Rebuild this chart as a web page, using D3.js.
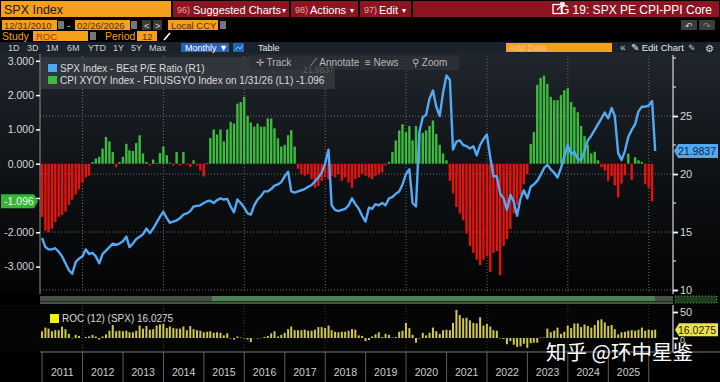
<!DOCTYPE html>
<html lang="en">
<head>
<meta charset="UTF-8">
<title>G 19: SPX PE CPI-PPI Core</title>
<script src="https://d3js.org/d3.v7.min.js"></script>
<style>
    body { margin: 0; background: #000; overflow: hidden; }
    svg { display: block; font-family: "Liberation Sans", Arial, sans-serif; }
</style>
</head>
<body>
<svg id="chart" width="720" height="382"></svg>
<script>
    // ---- data (monthly, month-end dates, first month = Dec 2010) ----
    // CPI XYOY - FDIUSGYO spread, Dec 2010 .. Jan 2026 (left axis)
    const cpiPpiSpread = [
        -1.55, -1.95, -2.0, -1.9, -1.7, -1.55, -1.5, -1.4, -1.2, -1.05, -0.9, -0.75, -0.55, -0.4, -0.35,
        0.05, 0.15, 0.2, 0.44, 0.78, 0.65, 0.34, -0.1, 0.05, 0.2, 0.58, 0.39, 0.37, 0.6, 0.83, 0.3,
        0.05, -0.05, 0.12, 0.02, 0.31, 0.5, 0.25, 0.03, -0.05, 0.34, -0.05, 0.34, -0.03, -0.1, 0.1, -0.05, -0.2, -0.37, 0.02,
        0.75, 1.0, 0.85, 1.0, 0.65, 1.0, 1.22, 1.17, 1.75, 1.8, 1.95, 1.4, 1.2, 1.08, 1.17, 1.08, 1.08, 1.32, 1.32, 1.03, 0.74, 0.5, 0.55, 0.83, 0.98, 0.5,
        -0.15, -0.3, -0.35, -0.3, -0.45, -0.7, -0.65, -0.5, -0.4, -0.45, -0.35, -0.4, -0.3, -0.5, -0.4, -0.55, -0.7, -0.45, -0.4, -0.3, -0.35, -0.4, -0.45, -0.35, -0.3, -0.25,
        -0.05, 0.05, 0.34, 0.68, 0.97, 1.15, 0.92, 1.1, 0.68, 1.1, 0.85, 0.9, 0.97, 1.1, 1.26, 0.87, 0.55, 0.3, 0.1,
        -0.5, -0.87, -1.26, -1.45, -1.65, -2.04, -2.4, -2.6, -2.8, -2.96, -2.8, -2.7, -3.16, -2.6, -2.55, -3.25, -2.4, -2.2, -1.9, -1.45, -1.2, -0.9, -0.6, -0.3,
        0.58, 0.92, 2.3, 2.5, 2.57, 2.33, 1.95, 1.85, 1.85, 2.0, 2.14, 2.2, 1.8, 1.65, 1.5, 1.1, 0.8, 0.55, 0.3, 0.35, 0.1,
        -0.1, -0.2, -0.5, -0.35, -0.63, -0.98, -0.58, -0.34, 0.29, -0.48, 0.19, 0.1, 0.05, -0.6, -0.7, -1.096
    ];

    // SPX BEst P/E ratio, Dec 2010 .. Feb 2026 (right axis)
    const peRatio = [
        14.5, 13.7, 13.5, 13.5, 13.6, 13.3, 12.9, 12.3, 11.7, 11.4,
        12.4, 12.7, 12.9, 13.5, 13.1, 13.2, 12.9, 12.3, 13.1, 13.4,
        13.7, 14.0, 13.9, 14.0, 14.2, 14.6, 13.7, 14.0, 14.4, 14.6,
        14.8, 15.3, 14.9, 15.3, 15.8, 16.3, 16.75, 16.2, 15.8, 15.9,
        16.0, 16.2, 16.5, 16.6, 16.8, 17.2, 17.25, 17.3, 17.5, 17.65,
        17.7, 17.5, 17.75, 17.9, 17.8, 17.85, 17.2, 16.7, 17.8, 17.5,
        17.1, 16.6, 16.5, 17.3, 17.8, 18.1, 18.5, 18.5, 18.7, 19.0,
        19.1, 19.3, 19.8, 20.2, 18.5, 18.4, 18.5, 18.6, 18.7, 18.9,
        19.05, 19.35, 19.7, 20.1, 20.9, 22.1, 17.3, 16.9, 16.8, 16.9,
        17.0, 17.3, 17.9, 17.4, 17.0, 16.4, 15.9, 17.1, 17.0, 17.4,
        17.3, 17.5, 17.3, 17.9, 18.0, 18.3, 18.5, 19.1, 20.0, 20.4,
        17.5, 17.2, 23.6, 24.9, 25.1, 26.5, 27.2, 25.8, 25.0, 27.0,
        28.5, 28.1, 22.1, 22.8, 22.9, 22.5, 22.4, 22.2, 22.4, 21.6,
        22.5, 23.0, 23.4, 21.4, 19.8, 19.8, 18.3, 17.9, 16.9, 18.2,
        17.6, 16.4, 17.9, 18.6, 17.9, 18.9, 19.1, 19.4, 19.9, 20.5,
        20.8, 20.4, 20.1, 19.7, 20.5, 21.5, 22.5, 21.7, 21.9, 21.3,
        21.2, 22.0, 22.9, 23.3, 23.8, 24.3, 24.8, 25.3, 24.8, 25.7,
        25.0, 21.8, 21.2, 22.0, 23.2, 23.8, 24.3, 25.4, 25.8, 25.8,
        25.9, 26.3, 21.9837
    ];

    // ROC (12) of SPX in %, Dec 2010 .. Feb 2026 (lower panel)
    const spxRoc12 = [
        12.8,
        20, 18, 13, 15, 15, 22, 17, 8, -1, 6, 4, 0,
        2, 3, 6, 3, -3, 3, 7, 14, 25, 13, 14, 13,
        14, 11, 11, 14, 24, 18, 23, 16, 17, 24, 26, 27,
        19, 22, 19, 18, 18, 22, 15, 23, 17, 15, 14, 11,
        12, 13, 10, 11, 10, 5, 9, -1, -3, 3, 1, -1,
        -3, -8, -0.4, -1, -0.5, 2, 4, 9, 13, 3, 6, 10,
        17, 22, 15, 15, 15, 16, 14, 14, 16, 21, 21, 19,
        24, 15, 12, 11, 12, 12, 14, 17, 16, 5, 4, -6,
        -4, 3, 7, 11, 2, 8, 6, 1, 2, 12, 14, 29,
        19, 6, -9, -1, 10, 5, 10, 20, 13, 8, 15, 16,
        15, 29, 54, 44, 38, 39, 34, 29, 28, 40, 24, 27,
        22, 15, 14, -1, -2, -12, -6, -13, -17, -16, -11, -19,
        -10, -9, -9, 1, 1, 18, 11, 14, 20, 8, 12, 24,
        19, 28, 28, 21, 26, 23, 20, 25, 34, 36, 30, 23,
        25, 17, 7, 11, 12, 14, 15, 14, 16, 20, 14, 16,
        15, 16.0275
    ];

    const leftTicks = [-3, -2, -1, 0, 1, 2, 3];
    const rightTicks = [10, 15, 20, 25];
    const rightMinorTicks = [12.5, 17.5, 22.5, 27.5, 30];
    const rocTicks = [0, 50];
    const yearLabels = [2011, 2012, 2013, 2014, 2015, 2016, 2017, 2018, 2019, 2020, 2021, 2022, 2023, 2024, 2025];
    const gridYears = [2012, 2014, 2016, 2018, 2020, 2022, 2024, 2026];

    // month-end date for index i (i = 0 -> 31 Dec 2010)
    function monthEnd(i) { return new Date(2010, 12 + i, 0); }

    const svg = d3.select("#chart");
    const defs = svg.append("defs");

    // small helpers
    function rect(g, x, y, w, h, fill) {
        return g.append("rect").attr("x", x).attr("y", y).attr("width", w).attr("height", h).attr("fill", fill);
    }
    function label(g, x, y, str, fill, size, anchor) {
        return g.append("text").attr("x", x).attr("y", y).attr("fill", fill)
            .attr("font-size", size).attr("text-anchor", anchor || "start").text(str);
    }

    // ---------------- header (Bloomberg toolbar) ----------------
    const hdr = svg.append("g");
    rect(hdr, 0, 0, 720, 53, "#000");
    rect(hdr, 1, 1, 170, 16, "#f5a01c");
    label(hdr, 4, 13.5, "SPX Index", "#1a1a1a", 12.5);
    rect(hdr, 173, 1, 546, 16, "#8d1521");
    [289, 358, 411].forEach(x => rect(hdr, x, 1, 2, 16, "#000"));
    label(hdr, 177, 13, "96)", "#e6a3a3", 9);
    label(hdr, 193, 13.5, "Suggested Charts", "#fff", 11);
    label(hdr, 282, 13, "▾", "#fff", 8);
    label(hdr, 295, 13, "98)", "#e6a3a3", 9);
    label(hdr, 310, 13.5, "Actions", "#fff", 11);
    label(hdr, 350, 13, "▾", "#fff", 8);
    label(hdr, 364, 13, "97)", "#e6a3a3", 9);
    label(hdr, 379, 13.5, "Edit", "#fff", 11);
    label(hdr, 402, 13, "▾", "#fff", 8);
    // export icon + title
    hdr.append("rect").attr("x", 553).attr("y", 4.5).attr("width", 9).attr("height", 9)
        .attr("fill", "none").attr("stroke", "#fff").attr("stroke-width", 1.3);
    hdr.append("path").attr("d", "M557,10 L564,3 M560,3 L564,3 L564,7").attr("stroke", "#fff").attr("stroke-width", 1.3).attr("fill", "none");
    label(hdr, 712, 13.5, "G 19: SPX PE CPI-PPI Core", "#fff", 12, "end");

    // row 2: dates
    rect(hdr, 2, 20, 55, 10, "#f5a01c");
    label(hdr, 4, 28.5, "12/31/2010", "#5a2a00", 9.5);
    rect(hdr, 58, 21, 6, 8, "#777");
    label(hdr, 67, 28.5, "-", "#ccc", 10);
    rect(hdr, 75, 20, 55, 10, "#f5a01c");
    label(hdr, 77, 28.5, "02/26/2026", "#5a2a00", 9.5);
    rect(hdr, 131, 21, 6, 8, "#777");
    rect(hdr, 142, 20, 9, 10, "#3a3a3a");
    label(hdr, 144, 28.5, "<", "#ddd", 9);
    rect(hdr, 153, 20, 9, 10, "#3a3a3a");
    label(hdr, 155, 28.5, ">", "#ddd", 9);
    rect(hdr, 168, 20, 50, 10, "#f5a01c");
    label(hdr, 171, 28.5, "Local CCY", "#5a2a00", 9.5);
    rect(hdr, 220, 21, 6, 8, "#777");
    rect(hdr, 681, 20, 16, 10, "#3c3c3c");
    label(hdr, 685, 28.5, "↶", "#ccc", 9);
    rect(hdr, 699, 20, 16, 10, "#3c3c3c");
    label(hdr, 703, 28.5, "↷", "#888", 9);

    // row 3: study
    label(hdr, 2, 39.5, "Study", "#f5a01c", 10.5);
    rect(hdr, 33, 31, 55, 10, "#f5a01c");
    label(hdr, 36, 39.5, "ROC", "#a23a10", 9.5);
    rect(hdr, 90, 32, 6, 8, "#777");
    label(hdr, 105, 39.5, "Period", "#f5a01c", 10.5);
    rect(hdr, 137, 31, 20, 10, "#f5a01c");
    label(hdr, 142, 39.5, "12", "#5a2a00", 9.5);
    hdr.append("path").attr("d", "M164,40 L170,33").attr("stroke", "#fff").attr("stroke-width", 1.6);

    // row 4: toolbar
    rect(hdr, 0, 42, 720, 11, "#1b222b");
    [["1D", 8], ["3D", 27], ["1M", 46], ["6M", 67], ["YTD", 88], ["1Y", 113], ["5Y", 131], ["Max", 149]]
        .forEach(d => label(hdr, d[1], 51, d[0], "#cfcfcf", 9));
    rect(hdr, 181, 43, 48, 9, "#2660bd");
    label(hdr, 185, 51, "Monthly ▼", "#fff", 9);
    rect(hdr, 233, 43, 11, 9, "#2660bd");
    hdr.append("path").attr("d", "M235,50 L238,47 L240,49 L243,45").attr("stroke", "#9cc4ff").attr("fill", "none");
    label(hdr, 258, 51, "Table", "#e6e6e6", 9);
    rect(hdr, 506, 43, 106, 9, "#f5a01c");
    label(hdr, 509, 51, "Add Data", "#f8c98a", 9);
    label(hdr, 620, 51, "«", "#ccc", 10);
    label(hdr, 631, 51, "✎ Edit Chart", "#e6e6e6", 9.5);
    label(hdr, 688, 51, "✎", "#ccc", 9);
    label(hdr, 705, 51.5, "⚙", "#ddd", 10);

    // ---------------- main chart ----------------
    const X0 = 40, X1 = 673;
    const mainTop = 54, mainBottom = 294;

    const bg = defs.append("linearGradient").attr("id", "bgGrad")
        .attr("x1", 0).attr("y1", 0).attr("x2", 0).attr("y2", 1);
    bg.append("stop").attr("offset", "0%").attr("stop-color", "#20262d");
    bg.append("stop").attr("offset", "55%").attr("stop-color", "#0d1013");
    bg.append("stop").attr("offset", "100%").attr("stop-color", "#030303");
    rect(svg, 0, mainTop - 1, 720, mainBottom - mainTop + 1, "url(#bgGrad)");

    const x = d3.scaleTime()
        .domain([new Date(2010, 11, 13), new Date(2026, 7, 8)])
        .range([X0, X1]);
    const yL = d3.scaleLinear().domain([-3, 3]).range([266.6, 60.8]);
    const yR = d3.scaleLinear().domain([10, 25]).range([290, 116]);

    // dotted grid
    const grid = svg.append("g");
    grid.selectAll(".hgrid").data(rightTicks).enter().append("line")
        .attr("x1", X0).attr("x2", X1 - 1)
        .attr("y1", d => yR(d)).attr("y2", d => yR(d))
        .attr("stroke", "#6b6e72").attr("stroke-dasharray", "1,2");
    grid.selectAll(".vgrid").data(gridYears).enter().append("line")
        .attr("x1", d => x(new Date(d, 0, 1))).attr("x2", d => x(new Date(d, 0, 1)))
        .attr("y1", mainTop + 2).attr("y2", mainBottom - 1)
        .attr("stroke", "#6b6e72").attr("stroke-dasharray", "1,2");

    // spread bars
    svg.append("g").selectAll("rect").data(cpiPpiSpread).enter().append("rect")
        .attr("x", (d, i) => x(monthEnd(i)) - 1.2)
        .attr("width", 2.4)
        .attr("y", d => Math.min(yL(d), yL(0)))
        .attr("height", d => Math.abs(yL(d) - yL(0)))
        .attr("fill", d => d >= 0 ? "#3dbb3f" : "#e8120c");

    // P/E line
    const peLine = d3.line()
        .x((d, i) => x(monthEnd(i)))
        .y(d => yR(d));
    svg.append("path").datum(peRatio)
        .attr("d", peLine)
        .attr("fill", "none")
        .attr("stroke", "#52aaf6")
        .attr("stroke-width", 2.4)
        .attr("stroke-linejoin", "round");

    // left axis
    svg.append("line").attr("x1", X0).attr("x2", X0).attr("y1", mainTop).attr("y2", mainBottom)
        .attr("stroke", "#8d8d8d");
    const leftAxis = svg.append("g").attr("transform", `translate(${X0},0)`)
        .call(d3.axisLeft(yL).tickValues(leftTicks).tickSize(4)
            .tickFormat(d => d === -1 ? "" : d.toFixed(3)));   // -1.000 sits under the value tag
    leftAxis.select(".domain").remove();
    leftAxis.selectAll(".tick line").attr("stroke", "#fff").attr("stroke-width", 1.5);
    leftAxis.selectAll(".tick text").attr("fill", "#d8d8d8").attr("font-size", 10.5)
        .attr("font-family", "Liberation Sans, Arial, sans-serif").attr("x", -6);

    // right axis
    rect(svg, X1, mainTop - 1, 720 - X1, mainBottom - mainTop + 1, "url(#bgGrad)");
    svg.append("line").attr("x1", X1).attr("x2", X1).attr("y1", mainTop + 1).attr("y2", mainBottom)
        .attr("stroke", "#d9d9d9").attr("stroke-width", 1.2);
    const rightAxis = svg.append("g").attr("transform", `translate(${X1},0)`)
        .call(d3.axisRight(yR).tickValues(rightTicks).tickSize(5));
    rightAxis.select(".domain").remove();
    rightAxis.selectAll(".tick line").attr("stroke", "#fff").attr("stroke-width", 1.8);
    rightAxis.selectAll(".tick text").attr("fill", "#d8d8d8").attr("font-size", 11)
        .attr("font-family", "Liberation Sans, Arial, sans-serif").attr("x", 7);
    svg.append("g").selectAll("line").data(rightMinorTicks).enter().append("line")
        .attr("x1", X1).attr("x2", X1 + 3)
        .attr("y1", d => yR(d)).attr("y2", d => yR(d))
        .attr("stroke", "#ddd").attr("stroke-width", 1.2);

    // value tags
    const peLast = peRatio[peRatio.length - 1];
    const ty = yR(peLast);
    svg.append("path")
        .attr("d", `M${X1 + 1},${ty} L${X1 + 5},${ty - 7} L718,${ty - 7} L718,${ty + 7} L${X1 + 5},${ty + 7} Z`)
        .attr("fill", "#4ea9f4");
    label(svg, 697, ty + 4, peLast.toFixed(4), "#0a2540", 10.5, "middle");

    const spLast = cpiPpiSpread[cpiPpiSpread.length - 1];
    const sy = yL(spLast);
    svg.append("path")
        .attr("d", `M1,${sy - 7} L34,${sy - 7} L38,${sy} L34,${sy + 7} L1,${sy + 7} Z`)
        .attr("fill", "#36b43a");
    label(svg, 19, sy + 4, spLast.toFixed(3), "#e8ffe6", 10.5, "middle");

    // legend
    const lg = svg.append("g");
    rect(lg, 41, 57, 294, 32, "rgba(52,58,64,0.85)");
    rect(lg, 48, 64, 9, 8, "#4ea9f4");
    label(lg, 60, 71.5, "SPX Index - BEst P/E Ratio (R1)", "#dcdcdc", 10);
    rect(lg, 48, 76, 9, 8, "#3dbb3f");
    label(lg, 60, 83.5, "CPI XYOY Index - FDIUSGYO Index on 1/31/26 (L1) -1.096", "#dcdcdc", 10);

    // chart tool buttons overlay
    const tb = svg.append("g");
    [[250, 55], [306, 53], [360, 46], [407, 52]].forEach(d => rect(tb, d[0], 55, d[1], 15, "rgba(44,48,54,0.92)"));
    label(tb, 256, 66, "✛ Track", "#b8b8b8", 10);
    label(tb, 303, 73, "21.9837", "rgba(160,160,160,0.4)", 8.5);
    label(tb, 310, 66, "⟋ Annotate", "#b8b8b8", 10);
    label(tb, 365, 66, "≡ News", "#b8b8b8", 10);
    label(tb, 412, 66, "⚲ Zoom", "#b8b8b8", 10);

    // ---------------- range strip ----------------
    rect(svg, 0, 294, 720, 11, "#000");
    rect(svg, X0, 296, X1 - X0, 5, "#4a4e4a");
    rect(svg, 212, 296, 443, 5, "#4f7f55");
    rect(svg, X0, 301.5, X1 - X0, 2.5, "#3b5a3e");
    rect(svg, 675, 296, 42, 7, "#1d3d1f").attr("stroke", "#46a34b").attr("stroke-dasharray", "1,2");

    // ---------------- lower panel: ROC (12) ----------------
    const lowTop = 305, lowBottom = 352;
    rect(svg, 0, lowTop, 720, lowBottom - lowTop, "#050505");
    const yRoc = d3.scaleLinear().domain([0, 50]).range([338, 312]);

    svg.append("g").selectAll("line").data(gridYears).enter().append("line")
        .attr("x1", d => x(new Date(d, 0, 1))).attr("x2", d => x(new Date(d, 0, 1)))
        .attr("y1", lowTop).attr("y2", lowBottom)
        .attr("stroke", "#3a3a3a").attr("stroke-dasharray", "1,2");

    svg.append("g").selectAll("rect").data(spxRoc12).enter().append("rect")
        .attr("x", (d, i) => x(monthEnd(i)) - 1)
        .attr("width", 2)
        .attr("y", d => Math.min(yRoc(d), yRoc(0)))
        .attr("height", d => Math.abs(yRoc(d) - yRoc(0)))
        .attr("fill", "#cfc84c");

    svg.append("line").attr("x1", X1).attr("x2", X1).attr("y1", lowTop).attr("y2", lowBottom)
        .attr("stroke", "#d9d9d9").attr("stroke-width", 1.2);
    const rocAxis = svg.append("g").attr("transform", `translate(${X1},0)`)
        .call(d3.axisRight(yRoc).tickValues(rocTicks).tickSize(5));
    rocAxis.select(".domain").remove();
    rocAxis.selectAll(".tick line").attr("stroke", "#fff").attr("stroke-width", 1.8);
    rocAxis.selectAll(".tick text").attr("fill", "#d8d8d8")
        .attr("font-size", d => d === 0 ? 9 : 11)
        .attr("font-family", "Liberation Sans, Arial, sans-serif").attr("x", 7)
        .attr("dy", d => d === 0 ? "0.5em" : "0.32em");

    const rocLast = spxRoc12[spxRoc12.length - 1];
    const ry = yRoc(rocLast);
    svg.append("path")
        .attr("d", `M${X1 + 2},${ry} L${X1 + 6},${ry - 6.5} L718,${ry - 6.5} L718,${ry + 6.5} L${X1 + 6},${ry + 6.5} Z`)
        .attr("fill", "#ece34a");
    label(svg, 697, ry + 4, rocLast.toFixed(4), "#222", 10.5, "middle");

    rect(svg, 50, 314, 9, 9, "#f2ee1e");
    label(svg, 62, 322, "ROC (12) (SPX) " + rocLast.toFixed(4), "#d8d8d8", 10);

    // ---------------- year axis ----------------
    rect(svg, 0, lowBottom, 720, 382 - lowBottom, "#000");
    svg.append("line").attr("x1", X0).attr("x2", 720).attr("y1", lowBottom).attr("y2", lowBottom)
        .attr("stroke", "#7a7a7a");
    const yearEdges = yearLabels.concat([2026]);
    svg.append("g").selectAll("line").data(yearEdges).enter().append("line")
        .attr("x1", d => x(new Date(d, 0, 1))).attr("x2", d => x(new Date(d, 0, 1)))
        .attr("y1", lowBottom).attr("y2", 382)
        .attr("stroke", "#5e5e5e");
    svg.append("g").selectAll("text").data(yearLabels).enter().append("text")
        .attr("x", d => x(new Date(d, 6, 2)))
        .attr("y", 376)
        .attr("text-anchor", "middle")
        .attr("fill", "#cfcfcf")
        .attr("font-size", 10.5)
        .text(d => d);

    // watermark
    svg.append("text")
        .attr("x", 546).attr("y", 359.5)
        .attr("fill", "#ffffff")
        .attr("font-size", 20.5)
        .attr("font-family", "'Noto Sans CJK SC', sans-serif")
        .text("知乎 @环中星鉴");
</script>
</body>
</html>
